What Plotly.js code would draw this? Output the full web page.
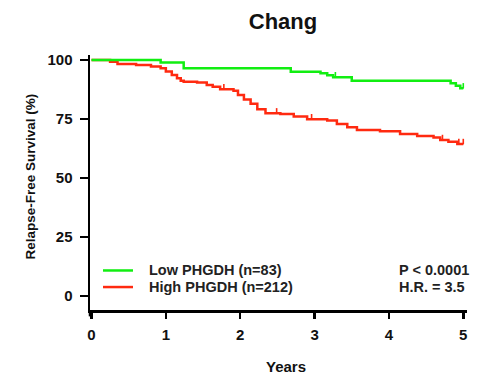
<!DOCTYPE html>
<html><head><meta charset="utf-8">
<script src="https://cdn.plot.ly/plotly-3.0.1.min.js"></script>
<style>html,body{margin:0;padding:0;background:#fff}#c{width:477px;height:377px}</style>
</head><body><div id="c"></div>
<script>
const lowT = [0, 0.93, 1.24, 2.68, 3.08, 3.17, 3.25, 3.50, 4.83, 4.90, 4.96, 5.0];
const lowS = [100, 98.9, 96.5, 95.0, 94.4, 93.5, 92.7, 91.2, 90.1, 89.1, 88.0, 88.0];
const highT = [0, 0.25, 0.35, 0.6, 0.8, 0.93, 1.0, 1.08, 1.15, 1.2, 1.24, 1.42, 1.55, 1.63, 1.73, 1.91, 1.97, 2.05, 2.14, 2.23, 2.34, 2.54, 2.72, 2.90, 3.17, 3.30, 3.44, 3.57, 3.88, 4.15, 4.38, 4.6, 4.69, 4.8, 4.92, 5.0];
const highS = [100, 99.2, 98.3, 97.9, 97.2, 96.5, 95.1, 93.6, 92.2, 91.2, 90.8, 90.4, 89.4, 88.7, 87.6, 87.0, 85.2, 83.3, 81.4, 79.1, 77.4, 77.1, 76.0, 74.9, 74.3, 72.9, 71.5, 70.3, 69.8, 68.6, 67.8, 67.2, 66.1, 65.4, 64.4, 64.4];
const lowCensT = [3.28, 5.0];
const lowCensS = [92.7, 88.0];
const highCensT = [1.78, 2.49, 2.96, 4.72, 4.94, 5.0];
const highCensS = [87.6, 77.4, 74.9, 66.1, 64.4, 64.4];
const xTicks = [0, 1, 2, 3, 4, 5];
const yTicks = [0, 25, 50, 75, 100];
const legendNames = ['Low PHGDH (n=83)', 'High PHGDH (n=212)'];
const statsText = ['P < 0.0001', 'H.R. = 3.5'];

const GREEN = '#11ee11', RED = '#ff2a10';
const F = '"Liberation Sans", Arial, sans-serif';

function cens(x, y, c) {
  return {x: x, y: y, mode: 'markers', marker: {size: 1, color: c},
    error_y: {type: 'constant', value: 2.2, symmetric: false, valueminus: 0, width: 0, thickness: 1.6, color: c},
    showlegend: false};
}
const traces = [
  {x: highT, y: highS, mode: 'lines', line: {shape: 'hv', color: RED, width: 2.5}, showlegend: false},
  {x: lowT, y: lowS, mode: 'lines', line: {shape: 'hv', color: GREEN, width: 2.5}, showlegend: false},
  cens(highCensT, highCensS, RED),
  cens(lowCensT, lowCensS, GREEN)
];

const legY = [0.155, 0.090];
const shapes = [
  {type: 'line', xref: 'paper', yref: 'paper', x0: 0, x1: 0, y0: 0, y1: -0.025, line: {color: '#000', width: 2.5}},
  {type: 'line', xref: 'paper', yref: 'paper', x0: 0.0345, x1: 0.114, y0: legY[0], y1: legY[0], line: {color: GREEN, width: 2.5}},
  {type: 'line', xref: 'paper', yref: 'paper', x0: 0.0345, x1: 0.114, y0: legY[1], y1: legY[1], line: {color: RED, width: 2.5}}
];
const tf = {family: F, size: 14.5, color: '#222', weight: 'bold'};
const annotations = [
  {text: legendNames[0], xref: 'paper', yref: 'paper', x: 0.150, y: legY[0], xanchor: 'left', yanchor: 'middle', showarrow: false, font: tf},
  {text: legendNames[1], xref: 'paper', yref: 'paper', x: 0.150, y: legY[1], xanchor: 'left', yanchor: 'middle', showarrow: false, font: tf},
  {text: statsText[0], xref: 'paper', yref: 'paper', x: 0.814, y: legY[0], xanchor: 'left', yanchor: 'middle', showarrow: false, font: tf},
  {text: statsText[1], xref: 'paper', yref: 'paper', x: 0.814, y: legY[1], xanchor: 'left', yanchor: 'middle', showarrow: false, font: tf},
  {text: '<b>Years</b>', xref: 'paper', yref: 'paper', x: (286 - 90) / 377, y: (310 - 366) / 255, xanchor: 'center', yanchor: 'middle', showarrow: false, font: {family: F, size: 15, color: '#111'}},
  {text: '<b>Relapse-Free Survival (%)</b>', textangle: -90, xref: 'paper', yref: 'paper', x: (30 - 90) / 377, y: (310 - 176.5) / 255, xanchor: 'center', yanchor: 'middle', showarrow: false, font: {family: F, size: 13.5, color: '#111'}}
];

const layout = {
  width: 477, height: 377,
  margin: {l: 90, r: 10, t: 55, b: 67},
  paper_bgcolor: '#fff', plot_bgcolor: '#fff',
  font: {family: F, color: '#111'},
  title: {text: '<b>Chang</b>', x: 283 / 477, xanchor: 'center', y: 1 - 21 / 377, yanchor: 'middle', font: {family: F, size: 22, color: '#111'}},
  xaxis: {
    range: [-0.02, 5.05], tickvals: xTicks, ticktext: xTicks.map(String),
    showgrid: false, zeroline: false, showline: true, linecolor: '#000', linewidth: 2.5,
    ticks: 'outside', ticklen: 6, tickwidth: 2.5, tickcolor: '#000', ticklabelstandoff: 3,
    tickfont: {family: F, size: 15, color: '#111', weight: 'bold'}
  },
  yaxis: {
    range: [-5.93, 102.1], tickvals: yTicks, ticktext: yTicks.map(String),
    showgrid: false, zeroline: false, showline: true, linecolor: '#000', linewidth: 2.5,
    ticks: 'outside', ticklen: 8, tickwidth: 2.5, tickcolor: '#000', ticklabelstandoff: 4,
    tickfont: {family: F, size: 15, color: '#111', weight: 'bold'}
  },
  shapes: shapes, annotations: annotations, showlegend: false
};
Plotly.newPlot('c', traces, layout, {staticPlot: true, displayModeBar: false});
</script></body></html>
